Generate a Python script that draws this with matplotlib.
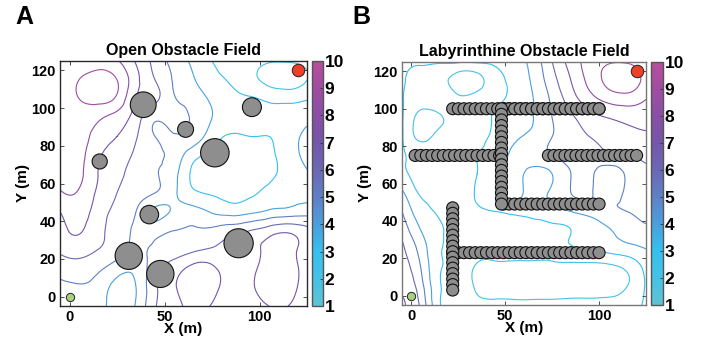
import numpy as np
import matplotlib
matplotlib.use("Agg")
import matplotlib.pyplot as plt
import matplotlib.tri as mtri
from matplotlib.colors import LinearSegmentedColormap, Normalize
from matplotlib.cm import ScalarMappable
from matplotlib.patches import Circle

plt.rcParams['font.family'] = ['Liberation Sans', 'DejaVu Sans']
plt.rcParams['font.weight'] = 'bold'

# ---------------- data ----------------
grid_x = [-5, 5, 15, 25, 35, 45, 55, 65, 75, 85, 95, 105, 115, 125]
grid_y = [125, 115, 105, 95, 85, 75, 65, 55, 45, 35, 25, 15, 5, -5]

field_open = [
    [8.0, 8.3, 8.5, 8.1, 6.9, 5.7, 4.6, 3.8, 3.0, 2.7, 2.4, 2.1, 2.1, 2.3],
    [8.1, 9.0, 9.4, 9.0, 7.3, 6.0, 4.9, 4.1, 3.3, 2.9, 2.3, 1.7, 1.5, 2.0],
    [8.2, 9.0, 9.3, 8.8, 7.0, 6.2, 5.1, 4.5, 3.8, 3.3, 3.1, 2.8, 2.7, 2.9],
    [8.2, 8.6, 8.2, 7.6, 6.5, 5.2, 5.4, 4.8, 4.0, 3.5, 3.3, 3.2, 3.4, 3.7],
    [8.2, 8.4, 7.6, 7.0, 6.1, 5.0, 4.9, 4.6, 3.5, 2.9, 3.0, 3.0, 3.5, 4.3],
    [8.2, 8.3, 7.2, 6.5, 5.8, 5.2, 4.6, 3.4, 2.8, 2.5, 2.5, 2.8, 3.5, 4.3],
    [8.1, 8.2, 7.0, 6.2, 5.6, 5.1, 4.3, 2.8, 2.5, 2.4, 2.5, 2.8, 3.4, 3.9],
    [7.9, 7.9, 6.8, 6.0, 5.4, 5.0, 4.2, 3.2, 2.9, 2.7, 2.9, 3.2, 3.6, 3.8],
    [7.0, 7.5, 6.5, 5.8, 5.0, 3.8, 4.2, 4.4, 3.9, 3.6, 3.8, 4.2, 4.4, 4.6],
    [6.6, 7.1, 6.3, 5.6, 4.8, 4.6, 5.0, 5.1, 5.2, 5.6, 6.0, 6.5, 6.8, 6.3],
    [6.2, 6.4, 6.0, 5.4, 4.8, 5.2, 5.5, 5.8, 6.1, 6.3, 6.6, 7.3, 7.4, 6.4],
    [5.4, 5.6, 5.2, 4.5, 4.3, 5.6, 6.5, 7.3, 7.2, 6.5, 6.7, 7.5, 7.6, 6.3],
    [4.8, 4.9, 4.6, 3.6, 4.0, 5.8, 6.9, 7.6, 7.4, 6.5, 6.8, 7.5, 7.5, 6.2],
    [4.6, 4.6, 4.4, 3.5, 4.1, 5.9, 6.8, 7.2, 6.9, 6.2, 6.5, 7.0, 7.0, 6.0],
]

field_laby = [
    [3.2, 3.15, 3.1, 3.1, 3.1, 3.2, 3.6, 4.4, 6.0, 7.4, 8.4, 8.9, 8.9, 8.4],
    [3.15, 2.6, 2.3, 1.6, 1.7, 2.6, 3.3, 4.2, 5.6, 7.0, 8.3, 9.3, 9.6, 8.6],
    [3.1, 2.3, 2.4, 2.2, 2.4, 2.8, 3.3, 4.0, 5.2, 6.5, 7.6, 8.3, 8.5, 8.0],
    [3.1, 1.7, 1.9, 2.4, 2.7, 3.1, 3.5, 4.0, 5.0, 5.8, 6.6, 7.0, 7.3, 7.4],
    [3.1, 1.8, 2.3, 2.6, 2.8, 3.2, 3.8, 4.3, 5.0, 5.6, 6.0, 6.3, 6.6, 6.8],
    [3.15, 2.6, 2.6, 2.8, 3.0, 3.4, 4.3, 4.6, 5.0, 5.4, 5.6, 5.8, 6.0, 6.2],
    [3.2, 2.7, 2.6, 2.6, 3.0, 3.6, 4.3, 3.6, 4.0, 5.0, 5.2, 4.4, 5.2, 5.8],
    [4.2, 2.9, 2.8, 2.6, 3.1, 3.8, 4.3, 3.7, 4.2, 5.0, 5.1, 4.6, 5.2, 5.6],
    [5.0, 3.4, 2.9, 2.6, 2.8, 3.0, 3.2, 3.3, 3.6, 4.0, 4.4, 4.8, 5.0, 5.3],
    [5.7, 4.0, 3.1, 2.7, 2.4, 2.6, 2.7, 2.8, 2.9, 3.0, 3.3, 3.9, 4.5, 4.8],
    [6.2, 4.6, 3.1, 2.8, 2.5, 2.6, 2.7, 2.7, 2.8, 2.9, 3.0, 3.3, 3.6, 4.0],
    [6.5, 5.0, 3.1, 2.8, 1.8, 1.6, 1.5, 1.5, 1.5, 1.6, 1.6, 1.7, 2.2, 3.3],
    [6.8, 5.4, 3.1, 2.7, 1.8, 1.4, 1.3, 1.3, 1.3, 1.4, 1.4, 1.5, 2.0, 3.1],
    [7.1, 5.8, 3.1, 2.7, 2.4, 2.4, 2.4, 2.4, 2.4, 2.4, 2.4, 2.4, 2.5, 3.2],
]

contour_levels = [2, 3, 4, 5, 6, 7, 8, 9]

# open field obstacles
open_obs_x = [38.8, 61.1, 96.0, 15.9, 76.5, 42.0, 31.2, 47.8, 89.0]
open_obs_y = [101.8, 88.7, 100.5, 71.7, 76.3, 43.5, 21.6, 12.0, 28.3]
open_obs_r = [6.8, 4.2, 5.0, 4.0, 7.5, 4.9, 7.2, 7.2, 7.7]

# labyrinth walls (chains of circles): x0, x1, y0, y1
wall_x0 = [22, 49, 2, 73, 49, 22, 22, 48]
wall_x1 = [100, 100, 47, 120, 100, 100, 22, 48]
wall_y0 = [100, 100, 75, 75, 49, 23, 47, 100]
wall_y1 = [100, 100, 75, 75, 49, 23, 3, 49]
wall_step = 3.0
laby_r = 3.2

start_xy = (0, 0)
goal_xy = (120, 120)

cbar_ticks = [1, 2, 3, 4, 5, 6, 7, 8, 9, 10]

cmap_colors = ['#5ec3d3', '#45c2e6', '#35c0ef', '#4a9fdd', '#5f80c6',
               '#6b68b6', '#7456aa', '#8a4ea6', '#a04ca2', '#b84e9e']
cmap = LinearSegmentedColormap.from_list('fieldmap', cmap_colors)
norm = Normalize(1, 10)

W, H = 706, 345
fig = plt.figure(figsize=(W / 100, H / 100), dpi=100)


def px_axes(l, t, r, b):
    return fig.add_axes([l / W, 1 - b / H, (r - l) / W, (b - t) / H])


def draw_field(ax, field):
    gx, gy = np.meshgrid(grid_x, grid_y)
    tri = mtri.Triangulation(gx.ravel(), gy.ravel())
    refiner = mtri.UniformTriRefiner(tri)
    tri_f, z_f = refiner.refine_field(np.asarray(field, float).ravel(), subdiv=4)
    ax.tricontour(tri_f, z_f, levels=contour_levels, cmap=cmap, norm=norm,
                  linewidths=0.8, zorder=1)


def style_axes(ax, title, frame_color):
    ax.set_xlim(-5, 125)
    ax.set_ylim(-5, 125)
    ax.set_xticks([0, 50, 100])
    ax.set_yticks([0, 20, 40, 60, 80, 100, 120])
    ax.tick_params(direction='in', length=3, width=0.6, top=True, right=True,
                   labelsize=10.5, pad=3, color='#333333')
    for lab in ax.get_xticklabels() + ax.get_yticklabels():
        lab.set_fontweight('bold')
    for s in ax.spines.values():
        s.set_color(frame_color)
        s.set_linewidth(1.0)
    ax.set_xlabel('X (m)', fontsize=11, fontweight='bold', labelpad=-1.5)
    ax.set_ylabel('Y (m)', fontsize=11, fontweight='bold', labelpad=1)
    ax.set_title(title, fontsize=11.5, fontweight='bold', pad=4)


def add_markers(ax):
    ax.plot(*start_xy, 'o', ms=6, mfc='#a9d07f', mec='#222222', mew=0.7, zorder=5)
    ax.plot(*goal_xy, 'o', ms=9, mfc='#ee4027', mec='#222222', mew=0.7, zorder=5)


def add_cbar(cax):
    sm = ScalarMappable(norm=norm, cmap=cmap)
    cb = fig.colorbar(sm, cax=cax, ticks=cbar_ticks)
    cb.outline.set_edgecolor('#555555')
    cb.outline.set_linewidth(1.0)
    cax.tick_params(direction='in', length=2.5, width=0.6, labelsize=12.5, pad=1,
                    color='#333333')
    for lab in cax.get_yticklabels():
        lab.set_fontweight('bold')


# ---------------- panel A ----------------
axA = px_axes(60, 61, 307, 306)
draw_field(axA, field_open)
for cx, cy, r in zip(open_obs_x, open_obs_y, open_obs_r):
    axA.add_patch(Circle((cx, cy), r, facecolor='#8e8e8e', edgecolor='#111111',
                         lw=0.8, zorder=3))
add_markers(axA)
style_axes(axA, 'Open Obstacle Field', '#2a2a2a')
caxA = px_axes(312, 61, 323, 306)
add_cbar(caxA)

# ---------------- panel B ----------------
axB = px_axes(402, 62, 646, 305)
draw_field(axB, field_laby)
for x0, x1, y0, y1 in zip(wall_x0, wall_x1, wall_y0, wall_y1):
    length = np.hypot(x1 - x0, y1 - y0)
    n = int(round(length / wall_step)) + 1
    xs = np.linspace(x0, x1, n)
    ys = np.linspace(y0, y1, n)
    for cx, cy in zip(xs, ys):
        axB.add_patch(Circle((cx, cy), laby_r, facecolor='#8e8e8e',
                             edgecolor='#111111', lw=0.8, zorder=3))
add_markers(axB)
style_axes(axB, 'Labyrinthine Obstacle Field', '#777777')
caxB = px_axes(651, 62, 663, 305)
add_cbar(caxB)

fig.text(15 / W, 1 - 17 / H, 'A', fontsize=18, fontweight='bold', va='center', ha='left')
fig.text(352 / W, 1 - 17 / H, 'B', fontsize=18, fontweight='bold', va='center', ha='left')

fig.savefig('out.png', dpi=100)
